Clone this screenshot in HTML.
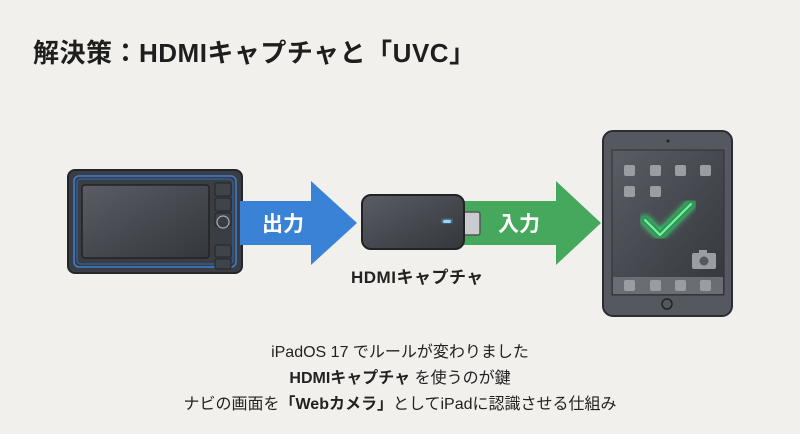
<!DOCTYPE html><html><head><meta charset="utf-8"><style>
body{margin:0;width:800px;height:434px;background:#f1f0ed;overflow:hidden;position:relative;font-family:"Liberation Sans","Noto Sans CJK JP",sans-serif;color:#222}
.t{position:absolute;white-space:nowrap}
</style></head><body>
<div class="t" style="left:33px;top:33px;font-size:26px;font-weight:bold;color:#1e1e1e;letter-spacing:0.5px">解決策：HDMIキャプチャと「UVC」</div>
<svg width="800" height="434" style="position:absolute;left:0;top:0">
<defs>
<linearGradient id="g" x1="0" y1="0" x2="1" y2="1"><stop offset="0" stop-color="#5a5e64"/><stop offset="0.5" stop-color="#464a50"/><stop offset="1" stop-color="#34383d"/></linearGradient>
<filter id="gl"><feGaussianBlur stdDeviation="3"/></filter>
</defs>
<rect x="68" y="170" width="174" height="103" rx="7" fill="#3a3e44" stroke="#23272c" stroke-width="2"/>
<rect x="74" y="176" width="162" height="91" rx="5" fill="none" stroke="#3d7fd0" stroke-width="1.5"/>
<rect x="77" y="179" width="156" height="85" rx="4" fill="none" stroke="#2f6bb5" stroke-width="1"/>
<rect x="82" y="185" width="127" height="73" rx="3" fill="url(#g)" stroke="#222" stroke-width="1.5"/>
<g fill="#3f444a" stroke="#22262a" stroke-width="1">
<rect x="215" y="183" width="16" height="13" rx="2"/><rect x="215" y="198" width="16" height="13" rx="2"/><rect x="215" y="213" width="16" height="13" rx="2"/>
<rect x="215" y="245" width="16" height="12" rx="2"/><rect x="215" y="259" width="16" height="10" rx="2"/></g>
<circle cx="223" cy="222" r="6" fill="#3a3e44" stroke="#aab" stroke-width="1.2"/>
<polygon points="240,201 311,201 311,181 357,223 311,265 311,245 240,245" fill="#3a82d6"/>
<text x="262" y="231" font-size="21" font-weight="bold" fill="#fff" font-family="Liberation Sans,Noto Sans CJK JP,sans-serif">出力</text>
<polygon points="463,201 556,201 556,181 601,223 556,265 556,245 463,245" fill="#46a85c"/>
<text x="498" y="231" font-size="21" font-weight="bold" fill="#fff" font-family="Liberation Sans,Noto Sans CJK JP,sans-serif">入力</text>
<rect x="463" y="212" width="17" height="23" rx="2" fill="#c9cbce" stroke="#555" stroke-width="1.5"/>
<rect x="362" y="195" width="102" height="54" rx="9" fill="url(#g)" stroke="#222" stroke-width="2"/>
<rect x="442" y="219" width="10" height="4" rx="2" fill="#6fc0ff" filter="url(#gl)"/>
<rect x="443" y="220" width="8" height="3" rx="1.5" fill="#9ad6ff"/>
<rect x="603" y="131" width="129" height="185" rx="10" fill="#55595f" stroke="#2a2e33" stroke-width="2"/>
<rect x="612" y="150" width="112" height="145" fill="url(#g)" stroke="#2d3136" stroke-width="1"/>
<circle cx="668" cy="141" r="1.5" fill="#222"/>
<circle cx="667" cy="304" r="5" fill="none" stroke="#222" stroke-width="1.5"/>
<rect x="613" y="277" width="110" height="17" fill="#6a6e74"/>
<g fill="#9a9da1">
<rect x="624" y="165" width="11" height="11" rx="2"/><rect x="650" y="165" width="11" height="11" rx="2"/><rect x="675" y="165" width="11" height="11" rx="2"/><rect x="700" y="165" width="11" height="11" rx="2"/>
<rect x="624" y="186" width="11" height="11" rx="2"/><rect x="650" y="186" width="11" height="11" rx="2"/>
<rect x="624" y="280" width="11" height="11" rx="2"/><rect x="650" y="280" width="11" height="11" rx="2"/><rect x="675" y="280" width="11" height="11" rx="2"/><rect x="700" y="280" width="11" height="11" rx="2"/>
<rect x="692" y="253" width="24" height="16" rx="2"/><rect x="699" y="250" width="8" height="4"/></g>
<circle cx="704" cy="261" r="4.5" fill="#55595f"/>
<polyline points="645,220 660,235 691,204" fill="none" stroke="#3fe07a" stroke-width="9" stroke-linecap="round" stroke-linejoin="round" filter="url(#gl)"/>
<polyline points="645,220 660,235 691,204" fill="none" stroke="#2e9a55" stroke-width="7" stroke-linecap="round" stroke-linejoin="round"/>
<polyline points="645,220 660,235 691,204" fill="none" stroke="#7cf2a4" stroke-width="2" stroke-linecap="round" stroke-linejoin="round"/>
</svg>
<div class="t" style="left:351px;top:263px;font-size:17px;font-weight:bold;letter-spacing:0.5px">HDMIキャプチャ</div>
<div class="t" style="left:0;width:800px;text-align:center;top:338px;font-size:16px">iPadOS 17 でルールが変わりました</div>
<div class="t" style="left:0;width:800px;text-align:center;top:364px;font-size:16px"><b>HDMIキャプチャ</b> を使うのが鍵</div>
<div class="t" style="left:0;width:800px;text-align:center;top:390px;font-size:16px">ナビの画面を<b>「Webカメラ」</b>としてiPadに認識させる仕組み</div>
</body></html>
